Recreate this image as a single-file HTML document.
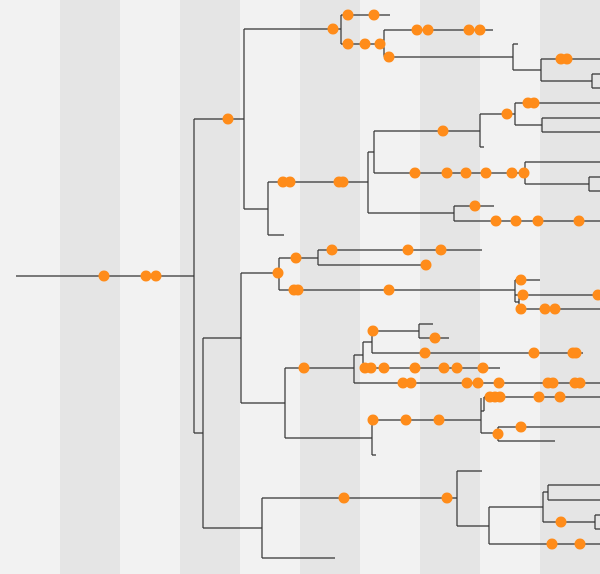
<!DOCTYPE html>
<html><head><style>body{margin:0}svg{display:block}</style></head><body>
<svg width="600" height="574" xmlns="http://www.w3.org/2000/svg">
<rect width="600" height="574" fill="#f2f2f2"/>
<g fill="#e5e5e5"><rect x="60" width="60" height="574"/><rect x="180" width="60" height="574"/><rect x="300" width="60" height="574"/><rect x="420" width="60" height="574"/><rect x="540" width="60" height="574"/></g>
<g stroke="#333" stroke-width="1.2" fill="none">
<path d="M16 276H194M194 119V433M194 433H203M203 338V528"/>
<path d="M194 119H244M244 29V209M244 29H341M341 15V44M341 15H390M341 44H384M384 30V57M384 30H493M384 57H513M513 44V70M513 44H518M513 70H541M541 59V81M541 59H600M541 81H592M592 74V88M592 74H600M592 88H600"/>
<path d="M244 209H268M268 182V235M268 235H284M268 182H368M368 152V213M368 152H374M374 131V173M374 131H480M480 114V147M480 147H484M480 114H515M515 103V125M515 103H600M515 125H542M542 118V132M542 118H600M542 132H600"/>
<path d="M374 173H525M525 162V184M525 162H600M525 184H589M589 177V191M589 177H600M589 191H600M368 213H454M454 206V221M454 206H494M454 221H600"/>
<path d="M194 276H194M241 273V403M241 273H279M279 258V290M279 258H318M318 250V265M318 250H482M318 265H426M279 290H515M515 280V302M515 280H540M515 295H600M519 297V309M515 302H519M519 309H600"/>
<path d="M203 338H241M241 403H285M285 368V438M285 368H354M354 355V383M354 355H363M363 342V368M363 342H372M372 331V353M372 331H419M419 324V338M419 324H433M419 338H449M372 353H583M363 368H500M354 383H600"/>
<path d="M285 438H372M372 420V455M372 455H376M372 420H481M481 398V433M481 411H484M484 397V411M484 397H600M481 433H498M498 427V441M498 427H600M498 441H555"/>
<path d="M203 528H262M262 498V558M262 558H335M262 498H457M457 471V526M457 471H482M457 526H489M489 507V544M489 507H543M543 492V522M543 492H548M548 485V500M548 485H600M548 500H600M543 522H595M595 515V529M595 515H600M595 529H600M489 544H600"/>
</g>
<g fill="#ff8c1a">
<circle cx="104" cy="276" r="5.5"/><circle cx="146" cy="276" r="5.5"/><circle cx="156" cy="276" r="5.5"/>
<circle cx="228" cy="119" r="5.5"/><circle cx="333" cy="29" r="5.5"/><circle cx="348" cy="15" r="5.5"/><circle cx="374" cy="15" r="5.5"/>
<circle cx="348" cy="44" r="5.5"/><circle cx="365" cy="44" r="5.5"/><circle cx="380" cy="44" r="5.5"/>
<circle cx="417" cy="30" r="5.5"/><circle cx="428" cy="30" r="5.5"/><circle cx="469" cy="30" r="5.5"/><circle cx="480" cy="30" r="5.5"/>
<circle cx="389" cy="57" r="5.5"/><circle cx="561" cy="59" r="5.5"/><circle cx="567" cy="59" r="5.5"/>
<circle cx="283" cy="182" r="5.5"/><circle cx="290" cy="182" r="5.5"/><circle cx="339" cy="182" r="5.5"/><circle cx="343" cy="182" r="5.5"/>
<circle cx="443" cy="131" r="5.5"/><circle cx="507" cy="114" r="5.5"/><circle cx="528" cy="103" r="5.5"/><circle cx="534" cy="103" r="5.5"/>
<circle cx="415" cy="173" r="5.5"/><circle cx="447" cy="173" r="5.5"/><circle cx="466" cy="173" r="5.5"/><circle cx="486" cy="173" r="5.5"/><circle cx="512" cy="173" r="5.5"/><circle cx="524" cy="173" r="5.5"/>
<circle cx="475" cy="206" r="5.5"/><circle cx="496" cy="221" r="5.5"/><circle cx="516" cy="221" r="5.5"/><circle cx="538" cy="221" r="5.5"/><circle cx="579" cy="221" r="5.5"/>
<circle cx="278" cy="273" r="5.5"/><circle cx="296" cy="258" r="5.5"/><circle cx="332" cy="250" r="5.5"/><circle cx="408" cy="250" r="5.5"/><circle cx="441" cy="250" r="5.5"/><circle cx="426" cy="265" r="5.5"/>
<circle cx="294" cy="290" r="5.5"/><circle cx="298" cy="290" r="5.5"/><circle cx="389" cy="290" r="5.5"/>
<circle cx="521" cy="280" r="5.5"/><circle cx="523" cy="295" r="5.5"/><circle cx="598" cy="295" r="5.5"/><circle cx="521" cy="309" r="5.5"/><circle cx="545" cy="309" r="5.5"/><circle cx="555" cy="309" r="5.5"/>
<circle cx="304" cy="368" r="5.5"/><circle cx="373" cy="331" r="5.5"/><circle cx="435" cy="338" r="5.5"/>
<circle cx="425" cy="353" r="5.5"/><circle cx="534" cy="353" r="5.5"/><circle cx="573" cy="353" r="5.5"/><circle cx="576" cy="353" r="5.5"/>
<circle cx="365" cy="368" r="5.5"/><circle cx="371" cy="368" r="5.5"/><circle cx="384" cy="368" r="5.5"/><circle cx="415" cy="368" r="5.5"/><circle cx="444" cy="368" r="5.5"/><circle cx="457" cy="368" r="5.5"/><circle cx="483" cy="368" r="5.5"/>
<circle cx="403" cy="383" r="5.5"/><circle cx="411" cy="383" r="5.5"/><circle cx="467" cy="383" r="5.5"/><circle cx="478" cy="383" r="5.5"/><circle cx="499" cy="383" r="5.5"/><circle cx="548" cy="383" r="5.5"/><circle cx="553" cy="383" r="5.5"/><circle cx="575" cy="383" r="5.5"/><circle cx="580" cy="383" r="5.5"/>
<circle cx="373" cy="420" r="5.5"/><circle cx="406" cy="420" r="5.5"/><circle cx="439" cy="420" r="5.5"/>
<circle cx="490" cy="397" r="5.5"/><circle cx="495" cy="397" r="5.5"/><circle cx="500" cy="397" r="5.5"/><circle cx="539" cy="397" r="5.5"/><circle cx="560" cy="397" r="5.5"/>
<circle cx="498" cy="434" r="5.5"/><circle cx="521" cy="427" r="5.5"/>
<circle cx="344" cy="498" r="5.5"/><circle cx="447" cy="498" r="5.5"/><circle cx="561" cy="522" r="5.5"/><circle cx="552" cy="544" r="5.5"/><circle cx="580" cy="544" r="5.5"/>
</g>
</svg>
</body></html>
